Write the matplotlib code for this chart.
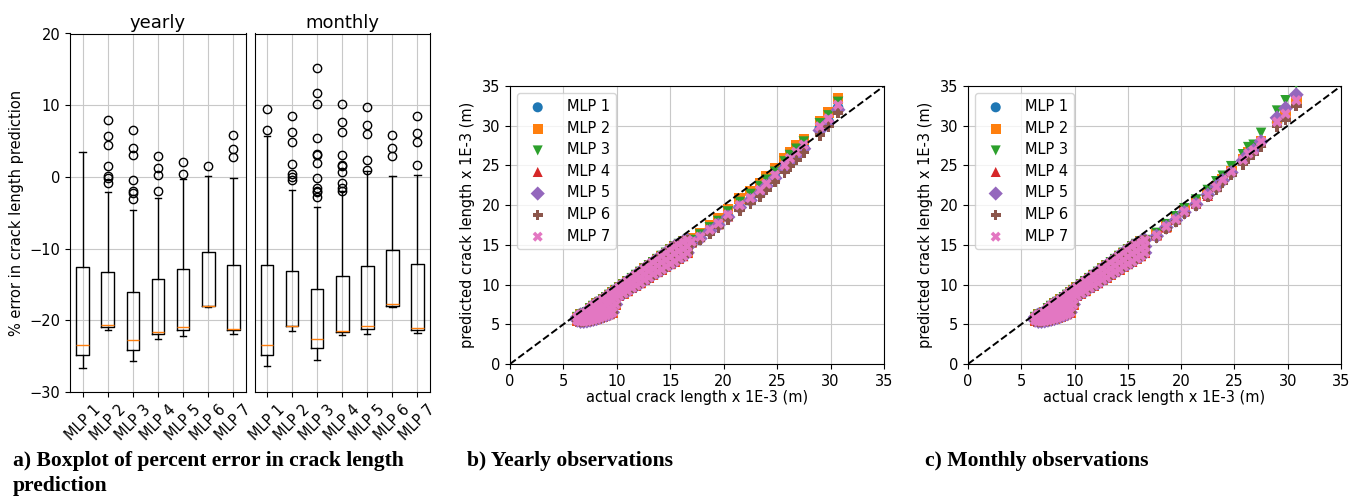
import numpy as np
import matplotlib
matplotlib.use("Agg")
import matplotlib.pyplot as plt

# ---------------- data ----------------
models = ["MLP 1", "MLP 2", "MLP 3", "MLP 4", "MLP 5", "MLP 6", "MLP 7"]

# boxplot statistics (% error), yearly
yearly_q1 = [-24.9, -20.9, -24.1, -21.9, -21.4, -18.05, -21.3]
yearly_med = [-23.5, -20.7, -22.8, -21.6, -20.9, -17.95, -21.2]
yearly_q3 = [-12.6, -13.2, -16.1, -14.2, -12.8, -10.5, -12.3]
yearly_whislo = [-26.65, -21.4, -25.7, -22.55, -22.2, -18.2, -21.9]
yearly_whishi = [3.5, -2.1, -4.55, -3.0, -0.35, 0.1, -0.1]
yearly_fliers = [[], [8.0, 5.7, 4.4, 1.5, 0.1, -0.2, -0.8],
                 [6.5, 4.05, 3.0, -0.5, -1.95, -2.2, -3.05],
                 [2.9, 1.2, 0.25, -1.9], [2.1, 0.45], [1.55], [5.9, 3.85, 2.75]]

# boxplot statistics (% error), monthly
monthly_q1 = [-24.8, -20.8, -23.8, -21.7, -21.2, -18.0, -21.4]
monthly_med = [-23.4, -20.75, -22.6, -21.5, -20.8, -17.7, -21.1]
monthly_q3 = [-12.3, -13.1, -15.65, -13.8, -12.4, -10.2, -12.2]
monthly_whislo = [-26.4, -21.45, -25.5, -22.05, -21.9, -18.2, -21.8]
monthly_whishi = [5.65, -1.8, -4.15, -1.9, 0.85, 0.1, 0.25]
monthly_fliers = [[9.45, 6.6], [8.55, 6.2, 4.9, 1.8, 0.4, 0.05, -0.45],
                  [15.2, 11.7, 10.1, 5.4, 3.2, 3.1, 1.9, -0.1, -1.5, -1.9, -2.05, -2.8],
                  [10.2, 7.6, 6.3, 3.1, 1.7, 1.5, 0.7, -0.8, -1.6, -2.0],
                  [9.8, 7.3, 6.0, 2.4, 0.9], [5.85, 4.05, 2.95], [8.45, 6.1, 4.9, 1.7]]

# dense region of observations (actual crack length -> predicted)
dense_actual = [6.3, 6.6, 6.9, 7.2, 7.5, 7.8, 8.1, 8.4, 8.7, 9.0, 9.3, 9.6, 9.9,
                10.2, 10.6, 11.0, 11.4, 11.8, 12.2, 12.6, 13.0, 13.4, 13.8,
                14.2, 14.6, 15.0, 15.4, 15.8, 16.2, 16.6]
dense_pred = [[5.5, 5.9], [5.35, 5.8, 6.2], [5.35, 5.8, 6.3], [5.4, 5.9, 6.5],
              [5.5, 6.0, 6.6, 7.0], [5.6, 6.2, 6.8, 7.3], [5.7, 6.3, 6.9, 7.6],
              [5.85, 6.5, 7.1, 7.8], [6.0, 6.6, 7.3, 8.1], [6.15, 6.8, 7.5, 8.4],
              [6.3, 7.0, 7.7, 8.7], [6.5, 7.2, 8.0, 9.0], [7.5, 8.3, 9.3],
              [8.6, 9.1, 9.6], [8.9, 9.5, 10.0], [9.2, 9.8, 10.4], [9.6, 10.2, 10.8],
              [9.9, 10.6, 11.2], [10.2, 10.9, 11.6], [10.6, 11.3, 12.0],
              [10.9, 11.7, 12.4], [11.3, 12.0, 12.8], [11.6, 12.4, 13.2],
              [11.9, 12.8, 13.6], [12.3, 13.1, 14.0], [12.6, 13.5, 14.4],
              [12.9, 13.9, 14.8], [13.3, 14.2, 15.1], [13.6, 14.5, 15.4],
              [14.0, 14.8, 15.6]]

# sparse larger cracks, yearly observations
yearly_actual = [17.0, 17.8, 18.7, 19.5, 20.4, 21.5, 22.5, 23.4, 24.0, 24.8,
                 25.7, 26.2, 26.8, 27.5, 29.0, 29.8, 30.7]
yearly_mlp1 = [15.3, 15.9, 16.8, 17.6, 18.7, 19.8, 20.7, 21.7, 22.5, 23.6, 24.8, 25.6, 26.4, 27.3, 29.7, 30.6, 32.3]
yearly_mlp2 = [15.8, 16.5, 17.5, 18.3, 19.5, 20.8, 21.8, 22.8, 23.6, 24.6, 25.9, 26.7, 27.5, 28.3, 30.6, 31.7, 33.4]
yearly_mlp3 = [15.6, 16.3, 17.2, 18.0, 19.2, 20.4, 21.4, 22.4, 23.2, 24.2, 25.5, 26.3, 27.1, 28.0, 30.3, 31.3, 33.0]
yearly_mlp4 = [15.3, 16.0, 16.8, 17.6, 18.6, 19.8, 20.8, 21.7, 22.5, 23.6, 24.8, 25.7, 26.4, 27.3, 29.6, 30.5, 32.2]
yearly_mlp5 = [15.2, 15.8, 16.7, 17.5, 18.5, 19.7, 20.6, 21.5, 22.4, 23.4, 24.6, 25.4, 26.2, 27.1, 29.4, 30.4, 32.0]
yearly_mlp6 = [15.0, 15.6, 16.4, 17.2, 18.2, 19.3, 20.2, 21.1, 21.9, 22.9, 24.1, 24.9, 25.7, 26.6, 28.8, 29.9, 31.6]
yearly_mlp7 = [15.4, 16.0, 16.9, 17.7, 18.8, 20.0, 20.9, 21.9, 22.7, 23.8, 25.0, 25.9, 26.7, 27.6, 29.9, 30.9, 32.6]

# sparse larger cracks, monthly observations
monthly_actual = [17.7, 18.6, 19.5, 20.3, 21.4, 22.5, 23.3, 23.9, 24.7, 25.8,
                  26.3, 26.8, 27.5, 29.0, 29.8, 30.8]
monthly_mlp1 = [16.1, 17.2, 18.1, 19.1, 20.1, 21.2, 22.2, 23.1, 24.1, 25.6, 26.4, 26.8, 27.9, 30.4, 31.4, 33.0]
monthly_mlp2 = [16.3, 17.3, 18.3, 19.3, 20.3, 21.4, 22.4, 23.3, 24.3, 25.8, 26.6, 27.0, 28.1, 30.6, 31.6, 33.1]
monthly_mlp3 = [16.5, 17.6, 18.6, 19.6, 20.7, 21.9, 23.0, 23.7, 24.9, 26.4, 27.3, 27.6, 29.1, 31.9, 33.2, 35.3]
monthly_mlp4 = [16.2, 17.2, 18.2, 19.2, 20.2, 21.2, 22.3, 23.2, 24.2, 25.6, 26.5, 26.9, 27.9, 30.4, 31.3, 33.0]
monthly_mlp5 = [16.1, 17.2, 18.1, 19.1, 20.1, 21.3, 22.3, 23.1, 24.1, 25.6, 26.4, 26.9, 28.0, 31.0, 32.2, 33.9]
monthly_mlp6 = [15.9, 17.0, 17.9, 18.9, 19.9, 21.0, 21.9, 22.8, 23.8, 25.1, 25.9, 26.4, 27.4, 29.9, 30.7, 32.5]
monthly_mlp7 = [16.2, 17.3, 18.2, 19.2, 20.2, 21.3, 22.3, 23.2, 24.2, 25.7, 26.5, 26.9, 28.0, 30.5, 31.5, 33.2]

box_ticks = [-30, -20, -10, 0, 10, 20]
scatter_ticks = [0, 5, 10, 15, 20, 25, 30, 35]

# ---------------- styling ----------------
colors = ["#1f77b4", "#ff7f0e", "#2ca02c", "#d62728", "#9467bd", "#8c564b", "#e377c2"]
markers = ["o", "s", "v", "^", "D", "P", "X"]

W, H = 1362, 496
fig = plt.figure(figsize=(W / 100, H / 100), dpi=100)


def px_axes(left, right, top, bottom):
    return fig.add_axes([left / W, 1 - bottom / H, (right - left) / W, (bottom - top) / H])


def make_stats(q1, med, q3, lo, hi, fl):
    return [dict(q1=q1[i], med=med[i], q3=q3[i], whislo=lo[i], whishi=hi[i],
                 fliers=fl[i], label=models[i]) for i in range(len(models))]


ax_y = px_axes(70, 246, 33.5, 392)
ax_m = px_axes(254.5, 430, 33.5, 392)
for ax, stats, title in [
    (ax_y, make_stats(yearly_q1, yearly_med, yearly_q3, yearly_whislo, yearly_whishi, yearly_fliers), "yearly"),
    (ax_m, make_stats(monthly_q1, monthly_med, monthly_q3, monthly_whislo, monthly_whishi, monthly_fliers), "monthly"),
]:
    ax.bxp(stats, positions=range(1, 8), widths=0.5,
           flierprops=dict(marker="o", markerfacecolor="none", markeredgecolor="black", markersize=6),
           medianprops=dict(color="#ff7f0e"))
    ax.set_ylim(-30, 20)
    ax.set_yticks(box_ticks)
    ax.grid(True, color="#c8c8c8", linewidth=0.8)
    ax.set_axisbelow(True)
    ax.set_title(title, fontsize=13, pad=4)
    ax.tick_params(axis="both", labelsize=10.5)
    plt.setp(ax.get_xticklabels(), rotation=45)
ax_m.set_yticklabels([])
ax_m.tick_params(axis="y", length=0)
ax_y.set_ylabel("% error in crack length prediction", fontsize=10.5)

all_yearly = [yearly_mlp1, yearly_mlp2, yearly_mlp3, yearly_mlp4, yearly_mlp5, yearly_mlp6, yearly_mlp7]
all_monthly = [monthly_mlp1, monthly_mlp2, monthly_mlp3, monthly_mlp4, monthly_mlp5, monthly_mlp6, monthly_mlp7]

dense_x = [a for a, preds in zip(dense_actual, dense_pred) for _ in preds]
dense_y = [p for preds in dense_pred for p in preds]

ax_b = px_axes(510, 884, 86, 364)
ax_c = px_axes(968, 1341, 86, 364)
for ax, actual, preds in [(ax_b, yearly_actual, all_yearly), (ax_c, monthly_actual, all_monthly)]:
    for i, name in enumerate(models):
        xs = dense_x + actual
        ys = dense_y + preds[i]
        ax.scatter(xs, ys, s=58, marker=markers[i], color=colors[i],
                   edgecolors="none", label=name, zorder=3)
    ax.plot([0, 35], [0, 35], "k--", linewidth=1.4, zorder=4)
    ax.set_xlim(0, 35)
    ax.set_ylim(0, 35)
    ax.set_xticks(scatter_ticks)
    ax.set_yticks(scatter_ticks)
    ax.grid(True, color="#c8c8c8", linewidth=0.8)
    ax.set_axisbelow(True)
    ax.tick_params(axis="both", labelsize=10.5)
    ax.set_xlabel("actual crack length x 1E-3 (m)", fontsize=10.5, labelpad=1)
    ax.set_ylabel("predicted crack length x 1E-3 (m)", fontsize=10.5, labelpad=5)
    ax.legend(loc="upper left", fontsize=10.5, scatterpoints=1, labelspacing=0.45,
              handletextpad=1.0, borderaxespad=0.5, markerscale=0.95)

cap_font = dict(family="Liberation Serif", fontweight="bold", fontsize=15.6)
fig.text(13 / W, 1 - 461 / H, "a) Boxplot of percent error in crack length", va="center", ha="left", **cap_font)
fig.text(13 / W, 1 - 486 / H, "prediction", va="center", ha="left", **cap_font)
fig.text(467 / W, 1 - 461 / H, "b) Yearly observations", va="center", ha="left", **cap_font)
fig.text(925 / W, 1 - 461 / H, "c) Monthly observations", va="center", ha="left", **cap_font)

fig.savefig("out.png", dpi=100)
